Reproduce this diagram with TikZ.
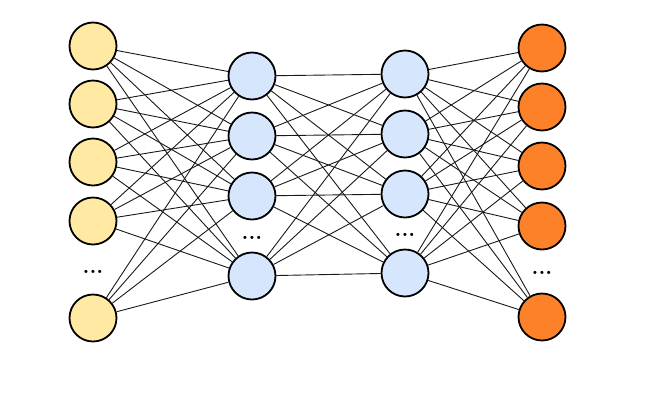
\documentclass[tikz,border=0pt]{standalone}
\usepackage{tikz}
\usetikzlibrary{positioning, calc}

\definecolor{inyellow}{HTML}{FFE9A3}
\definecolor{hidblue}{HTML}{D5E6FD}
\definecolor{outorange}{HTML}{FD8128}

\begin{document}
\begin{tikzpicture}[
  x=1pt, y=-1pt,
  neuron/.style={circle, draw=black, line width=1.8pt, minimum size=47pt, inner sep=0pt},
  inneuron/.style={neuron, fill=inyellow},
  hidneuron/.style={neuron, fill=hidblue},
  outneuron/.style={neuron, fill=outorange},
  link/.style={draw=black!90, line width=0.9pt},
  dots/.style={font=\fontsize{22}{24}\selectfont\bfseries, inner sep=0pt}
]
\useasboundingbox (0,0) rectangle (660,402);

% Input layer
\foreach \n/\y in {1/46, 2/104, 3/162, 4/221, 5/318} {
  \node[inneuron] (i\n) at (93,\y) {};
}
\node[dots] (idots) at (93,272) {...};

% Hidden layer one
\foreach \n/\y in {1/76, 2/136, 3/196, 4/276} {
  \node[hidneuron] (a\n) at (252,\y) {};
}
\node[dots] (adots) at (252,238) {...};

% Hidden layer two
\foreach \n/\y in {1/74, 2/134, 3/194, 4/273} {
  \node[hidneuron] (b\n) at (405,\y) {};
}
\node[dots] (bdots) at (405,235) {...};

% Output layer
\foreach \n/\y in {1/48, 2/107, 3/166, 4/226, 5/317} {
  \node[outneuron] (o\n) at (542,\y) {};
}
\node[dots] (odots) at (542,273) {...};

% Connections
\foreach \i in {1,...,5} {
  \foreach \j in {1,...,4} {
    \draw[link] (i\i) -- (a\j);
  }
}
\foreach \i in {1,...,4} {
  \foreach \j in {1,...,4} {
    \draw[link] (a\i) -- (b\j);
  }
}
\foreach \i in {1,...,4} {
  \foreach \j in {1,...,5} {
    \draw[link] (b\i) -- (o\j);
  }
}

\end{tikzpicture}
\end{document}
